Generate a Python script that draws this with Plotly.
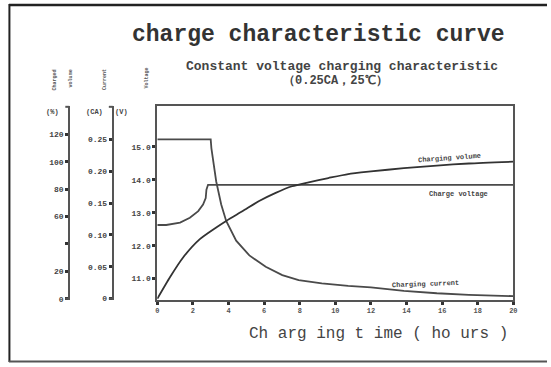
import plotly.graph_objects as go

# ---- data ----
hours_ticks = [0, 2, 4, 6, 8, 10, 12, 14, 16, 18, 20]

current_t = [0, 3.0, 3.04, 3.31, 3.59, 3.87, 4.43, 5.17, 6.09, 7.02, 7.94, 9.24, 10.72,
             12.0, 13.85, 15.7, 17.5, 20.0]
current_ca = [0.25, 0.25, 0.236, 0.184, 0.148, 0.122, 0.091, 0.068, 0.050, 0.037, 0.029,
              0.024, 0.020, 0.0176, 0.0124, 0.0085, 0.006, 0.004]

voltage_t = [0, 0.5, 1.28, 1.83, 2.3, 2.57, 2.72, 2.76, 2.85, 20.0]
voltage_v = [12.63, 12.63, 12.70, 12.85, 13.05, 13.25, 13.45, 13.70, 13.85, 13.85]

volume_t = [0, 0.72, 1.46, 2.39, 3.31, 3.87, 4.8, 5.72, 6.65, 7.57, 8.5, 9.61, 10.72,
            12.0, 13.85, 15.7, 17.5, 20.0]
volume_pct = [0, 15.9, 30.3, 43.5, 52.0, 56.8, 64.0, 71.3, 77.3, 82.1, 85.0, 88.1, 91.0,
              92.9, 95.3, 97.2, 98.7, 100.0]

v_ticks = [11, 12, 13, 14, 15]
v_labels = ["11.0", "12.0", "13.0", "14.0", "15.0"]
ca_ticks = [0, 0.05, 0.10, 0.15, 0.20, 0.25]
ca_labels = ["0", "0.05", "0.10", "0.15", "0.20", "0.25"]
pct_ticks = [0, 20, 40, 60, 80, 100, 120]
pct_labels = ["0", "20", "", "60", "80", "100", "120"]

W, H = 551, 367
def px(x):
    return x / W
def py(y):
    return 1 - y / H

LINE = "#4a4a4a"
TXT = "#444444"
MONO = "Liberation Mono, DejaVu Sans Mono, monospace"
tickfont = dict(family=MONO, size=8, color=TXT, weight="bold")

fig = go.Figure()
fig.add_trace(go.Scatter(x=current_t, y=current_ca, yaxis="y2", mode="lines",
                         line=dict(color=LINE, width=1.8), name="Charging current"))
fig.add_trace(go.Scatter(x=voltage_t, y=voltage_v, yaxis="y", mode="lines",
                         line=dict(color=LINE, width=1.8), name="Charge voltage"))
fig.add_trace(go.Scatter(x=volume_t, y=volume_pct, yaxis="y3", mode="lines",
                         line=dict(color="#333333", width=1.8, shape="spline", smoothing=0.6),
                         name="Charging volume"))

ydom = [py(303), py(107)]

fig.update_layout(
    width=W, height=H, margin=dict(l=0, r=0, t=0, b=0),
    paper_bgcolor="white", plot_bgcolor="white", showlegend=False,
    xaxis=dict(domain=[px(157), px(517)], range=[0, 20], tickvals=hours_ticks,
               ticks="outside", ticklen=3, tickwidth=3, tickcolor="#333",
               showline=True, linecolor="#555", linewidth=2, mirror=True,
               showgrid=False, zeroline=False,
               tickfont=dict(family=MONO, size=7, color="#555", weight="bold")),
    yaxis=dict(domain=ydom, range=[10.36, 16.25], tickvals=v_ticks, ticktext=v_labels,
               ticks="outside", ticklen=3, tickwidth=3, tickcolor="#333",
               showline=True, linecolor="#555", linewidth=2, mirror=True,
               showgrid=False, zeroline=False, tickfont=tickfont),
    yaxis2=dict(domain=ydom, range=[-0.0016, 0.3028], overlaying="y", anchor="free",
                position=px(112), side="left", tickvals=ca_ticks, ticktext=ca_labels,
                ticks="outside", ticklen=3, tickwidth=3, tickcolor="#333",
                showline=True, linecolor="#555", linewidth=2,
                showgrid=False, zeroline=False, tickfont=tickfont),
    yaxis3=dict(domain=ydom, range=[-0.72, 140.8], overlaying="y", anchor="free",
                position=px(68), side="left", tickvals=pct_ticks, ticktext=pct_labels,
                ticks="outside", ticklen=3, tickwidth=3, tickcolor="#333",
                showline=True, linecolor="#555", linewidth=2,
                showgrid=False, zeroline=False, tickfont=tickfont),
)

shapes = []
# outer frame
shapes.append(dict(type="line", xref="paper", yref="paper", x0=px(7.5), x1=px(7.5),
                   y0=py(4), y1=py(366), line=dict(color="#222", width=2)))
shapes.append(dict(type="line", xref="paper", yref="paper", x0=px(7), x1=1.0,
                   y0=py(5), y1=py(5), line=dict(color="#222", width=2.5)))
shapes.append(dict(type="line", xref="paper", yref="paper", x0=px(7), x1=1.0,
                   y0=py(365.5), y1=py(365.5), line=dict(color="#555", width=2)))
# bracket hooks on the left axes
for ax in (68, 112):
    for yy in (108, 302):
        shapes.append(dict(type="line", xref="paper", yref="paper", x0=px(ax - 4), x1=px(ax),
                           y0=py(yy), y1=py(yy), line=dict(color="#555", width=2)))
fig.update_layout(shapes=shapes)

def note(text, x, y, size, color=TXT, angle=0, bold=True, family=MONO):
    return dict(text=text, x=px(x), y=py(y), xref="paper", yref="paper",
                xanchor="center", yanchor="middle", showarrow=False, textangle=angle,
                font=dict(family=family, size=size, color=color,
                          weight="bold" if bold else "normal"))

ann = []
ann.append(note("charge characteristic curve", 320, 35, 23, color="#333"))
ann.append(note("Constant voltage charging characteristic", 344, 67, 13, color="#444"))
ann.append(note("（0.25CA，25℃）", 337, 82, 12, color="#444"))
ann.append(note("Ch arg ing t ime ( ho urs )", 381, 338, 16, color="#444", bold=False))
for txt, xx in (("(%)", 51), ("(CA)", 94), ("(V)", 121)):
    ann.append(note(txt, xx, 113, 7))
for txt, xx, yy in (("Charged", 54, 81), ("volume", 70, 79), ("Current", 104, 80),
                    ("Voltage", 147, 79)):
    ann.append(note(txt, xx, yy, 5, color="#555", angle=-90))
ann.append(note("Charging volume", 452, 160, 7, angle=-4))
ann.append(note("Charge voltage", 462, 196, 7))
ann.append(note("Charging current", 428, 287, 7, angle=-2))
fig.update_layout(annotations=ann)

fig.write_html("out.html")
